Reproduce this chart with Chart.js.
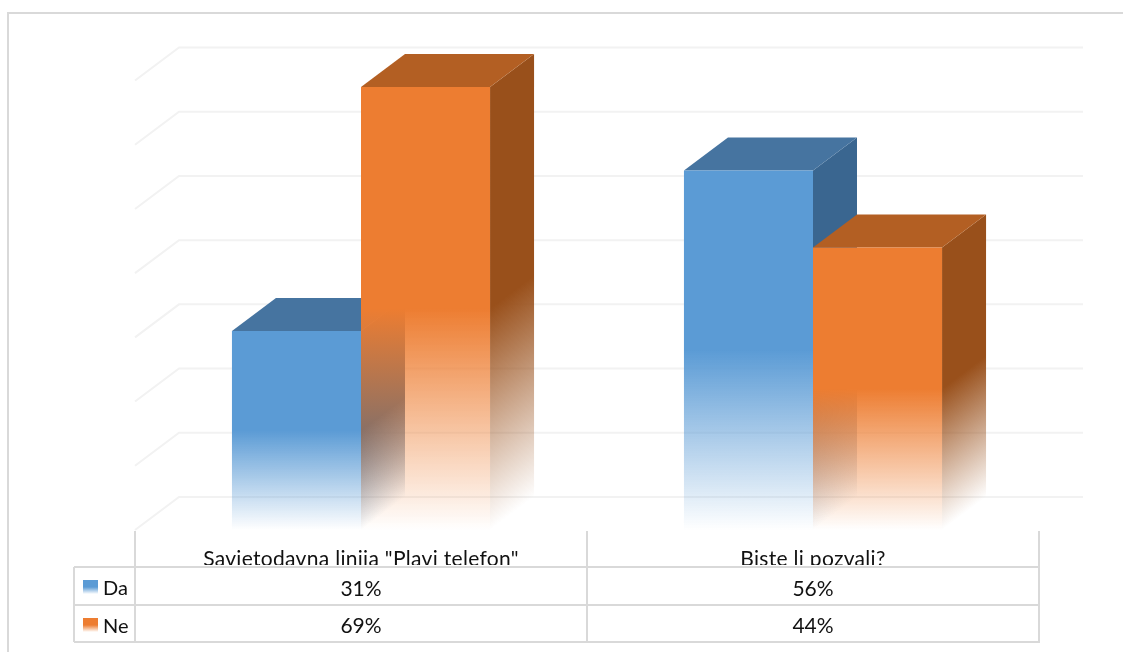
<!DOCTYPE html>
<html><head><meta charset="utf-8">
<script src="https://cdn.jsdelivr.net/npm/chart.js@4"></script>
<style>html,body{margin:0;padding:0;background:#fff}#w{position:relative;width:1123px;height:652px}</style>
</head><body><div id="w"><canvas id="c" width="1123" height="652"></canvas></div>
<script>
const categories = ['Savjetodavna linija "Plavi telefon"', 'Biste li pozvali?'];
const seriesNames = ['Da', 'Ne'];
const valuesDa = [31, 56];
const valuesNe = [69, 44];
const yTicks = [0, 10, 20, 30, 40, 50, 60, 70];
const frontColors = ['91,155,213', '237,125,49'];
const topColors = ['70,116,160', '179,95,35'];
const sideColors = ['58,102,144', '153,80,27'];
const DX = 44, DY = 33;
const FAMILY = 'Lato, Carlito, sans-serif';

function fadeStops(g, rgb){
  g.addColorStop(0, `rgba(${rgb},1)`);
  g.addColorStop(0.5, `rgba(${rgb},1)`);
  g.addColorStop(1, `rgba(${rgb},0)`);
  return g;
}
function frontFill(c, idx){
  const chart = c.chart, y = chart.scales.y;
  const v = chart.data.datasets[idx].data[c.dataIndex];
  const y0 = y ? y.getPixelForValue(v) : NaN, y1 = y ? y.getPixelForValue(0) : NaN;
  if (!Number.isFinite(y0) || !Number.isFinite(y1)) return `rgb(${frontColors[idx]})`;
  return fadeStops(chart.ctx.createLinearGradient(0, y0, 0, y1), frontColors[idx]);
}
const depthPlugin = {
  id: 'depth',
  beforeDraw(chart){ chart.ctx.letterSpacing = '0.3px'; },
  beforeDatasetsDraw(chart){
    const {ctx, scales:{y}, chartArea:a} = chart;
    ctx.letterSpacing = '0px';
    ctx.save();
    ctx.strokeStyle = '#F2F2F2'; ctx.lineWidth = 2;
    yTicks.forEach(t => {
      const p = y.getPixelForValue(t);
      ctx.beginPath();
      ctx.moveTo(a.left, p); ctx.lineTo(a.left + DX, p - DY); ctx.lineTo(a.right + DX, p - DY);
      ctx.stroke();
    });
    ctx.restore();
    // Da first, then Ne, each with its side and top faces under its front
    chart.data.datasets.forEach((ds, i) => {
      const meta = chart.getDatasetMeta(i);
      const base = y.getPixelForValue(0);
      ctx.save();
      meta.data.forEach(b => {
        const L = b.x - b.width/2, R = b.x + b.width/2, T = b.y, H = base - T;
        const k = 0.8*H;
        const side = ctx.createLinearGradient(R, T, R + k*0.6, T + k*0.8);
        fadeStops(side, sideColors[i]);
        ctx.fillStyle = side;
        ctx.beginPath();
        ctx.moveTo(R, T); ctx.lineTo(R+DX, T-DY); ctx.lineTo(R+DX, base-DY); ctx.lineTo(R, base);
        ctx.closePath(); ctx.fill();
        ctx.fillStyle = `rgb(${topColors[i]})`;
        ctx.beginPath();
        ctx.moveTo(L, T); ctx.lineTo(L+DX, T-DY); ctx.lineTo(R+DX, T-DY); ctx.lineTo(R, T);
        ctx.closePath(); ctx.fill();
      });
      ctx.restore();
      meta.controller.draw();
    });
    return false;
  },
  afterDraw(chart){
    const {ctx, chartArea:a} = chart;
    const left = 74, mid = (a.left + a.right)/2, rows = [567, 605, 642];
    ctx.save();
    ctx.fillStyle = '#fff';
    ctx.fillRect(0, rows[0], 1123, 652 - rows[0]);
    ctx.strokeStyle = '#D9D9D9'; ctx.lineWidth = 2;
    ctx.beginPath();
    rows.forEach(r => { ctx.moveTo(left, r); ctx.lineTo(a.right + 1, r); });
    [a.left, mid, a.right].forEach(x => { ctx.moveTo(x, a.bottom + 1); ctx.lineTo(x, rows[2]); });
    ctx.moveTo(left, rows[0]); ctx.lineTo(left, rows[2]);
    ctx.stroke();
    // frame
    ctx.beginPath();
    ctx.moveTo(8, 652); ctx.lineTo(8, 13); ctx.lineTo(1123, 13);
    ctx.stroke();
    ctx.fillStyle = '#111'; ctx.textBaseline = 'middle';
    [valuesDa, valuesNe].forEach((vals, r) => {
      const yc = (rows[r] + rows[r+1])/2 + 3;
      ctx.textAlign = 'center';
      ctx.font = '21px ' + FAMILY;
      vals.forEach((v, c) => {
        const x = chart.scales.x.getPixelForTick(c);
        ctx.fillText(v + '%', x, yc);
      });
      ctx.textAlign = 'left';
      ctx.font = '20px ' + FAMILY;
      ctx.fillText(seriesNames[r], 103, yc);
      const ky = rows[r] + 13;
      const g = ctx.createLinearGradient(0, ky, 0, ky + 14);
      fadeStops(g, frontColors[r]);
      ctx.fillStyle = g; ctx.fillRect(83, ky, 15, 14);
      ctx.fillStyle = '#111';
    });
    ctx.restore();
  }
};
new Chart(document.getElementById('c'), {
  type: 'bar',
  data: { labels: categories, datasets: [
    { label: seriesNames[0], data: valuesDa, backgroundColor: c => frontFill(c, 0) },
    { label: seriesNames[1], data: valuesNe, backgroundColor: c => frontFill(c, 1) }
  ]},
  options: {
    responsive: false, animation: false,
    layout: { padding: { left: 135, right: 84, top: 80.5, bottom: 87 } },
    datasets: { bar: { barPercentage: 1, categoryPercentage: 0.571, borderWidth: 0 } },
    plugins: { legend: { display: false }, tooltip: { enabled: false } },
    scales: {
      x: { grid: { display: false }, border: { display: false },
           afterFit: s => { s.height = 35; },
           ticks: { padding: 9, font: { family: FAMILY, size: 21 }, color: '#111', maxRotation: 0 } },
      y: { display: false, min: 0, max: 70, ticks: { stepSize: 10 }, grid: { display: false } }
    }
  },
  plugins: [depthPlugin]
});
</script></body></html>
